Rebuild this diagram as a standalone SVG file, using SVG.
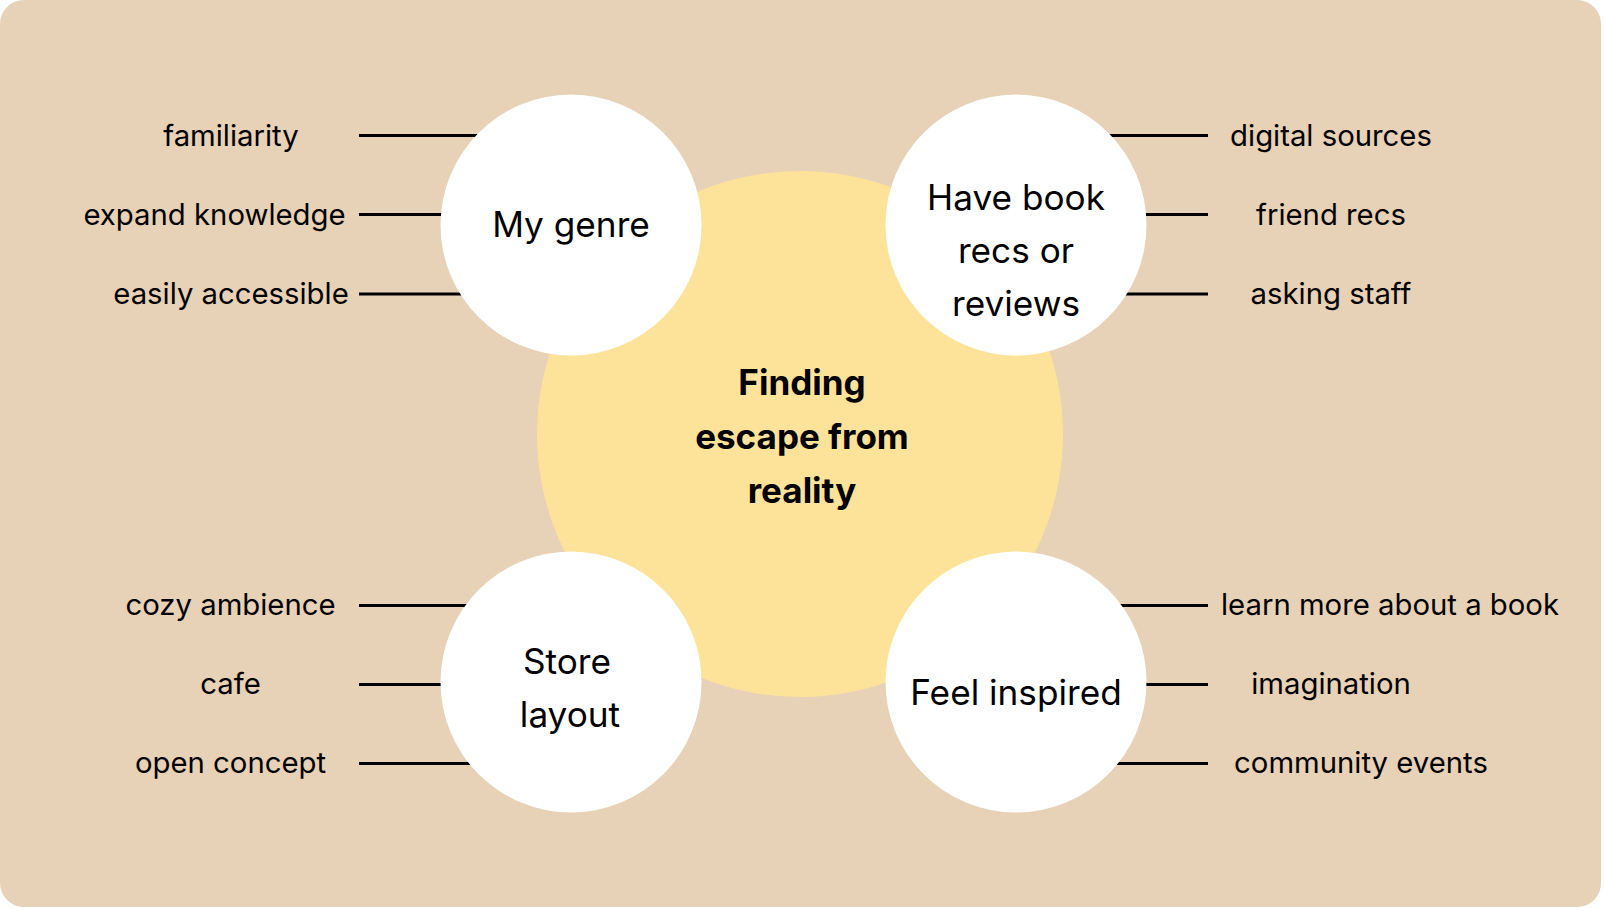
<svg xmlns="http://www.w3.org/2000/svg" width="1604" height="908" viewBox="0 0 1604 908">
<style>
.lbl{font-family:Inter,"Noto Sans","Liberation Sans",sans-serif;font-size:29.3px;fill:#000;text-anchor:middle}
.nt{font-family:Inter,"Noto Sans","Liberation Sans",sans-serif;font-size:35.2px;fill:#000;text-anchor:middle}
.ct{font-family:Inter,"Noto Sans","Liberation Sans",sans-serif;font-size:35px;font-weight:700;fill:#000;text-anchor:middle}
.conn line{stroke:#000;stroke-width:3}
.node{fill:#fff}
</style>
<rect x="0" y="0" width="1601" height="907" rx="24" fill="#E7D1B7"/>
<g id="center">
<circle cx="800" cy="434" r="263" fill="#FDE39A"/>
<text class="ct" x="802" y="395">Finding</text>
<text class="ct" x="802" y="449">escape from</text>
<text class="ct" x="802" y="503">reality</text>
</g>
<g id="connectors" class="conn">
<line x1="359" y1="135.5" x2="571" y2="135.5"/>
<line x1="359" y1="214.5" x2="571" y2="214.5"/>
<line x1="359" y1="294" x2="571" y2="294"/>
<line x1="1016" y1="135.5" x2="1208" y2="135.5"/>
<line x1="1016" y1="214.5" x2="1208" y2="214.5"/>
<line x1="1016" y1="294" x2="1208" y2="294"/>
<line x1="359" y1="605.5" x2="571" y2="605.5"/>
<line x1="359" y1="684.5" x2="571" y2="684.5"/>
<line x1="359" y1="763.5" x2="571" y2="763.5"/>
<line x1="1016" y1="605.5" x2="1208" y2="605.5"/>
<line x1="1016" y1="684.5" x2="1208" y2="684.5"/>
<line x1="1016" y1="763.5" x2="1208" y2="763.5"/>
</g>
<g id="node-genre">
<circle class="node" cx="571" cy="225" r="130.5"/>
<text class="nt" x="571" y="237">My genre</text>
</g>
<g id="node-recs">
<circle class="node" cx="1016" cy="225" r="130.5"/>
<text class="nt" x="1016" y="210">Have book</text>
<text class="nt" x="1016" y="263">recs or</text>
<text class="nt" x="1016" y="316">reviews</text>
</g>
<g id="node-layout">
<circle class="node" cx="571" cy="682" r="130.5"/>
<text class="nt" x="567" y="674">Store</text>
<text class="nt" x="570" y="727">layout</text>
</g>
<g id="node-inspired">
<circle class="node" cx="1016" cy="682" r="130.5"/>
<text class="nt" x="1016" y="705">Feel inspired</text>
</g>
<g id="labels">
<text class="lbl" x="231" y="146">familiarity</text>
<text class="lbl" x="214.5" y="225">expand knowledge</text>
<text class="lbl" x="231" y="304">easily accessible</text>
<text class="lbl" x="1331" y="146">digital sources</text>
<text class="lbl" x="1331" y="225">friend recs</text>
<text class="lbl" x="1331" y="304">asking staff</text>
<text class="lbl" x="230.5" y="615">cozy ambience</text>
<text class="lbl" x="230.5" y="694">cafe</text>
<text class="lbl" x="230.5" y="773">open concept</text>
<text class="lbl" x="1390" y="615">learn more about a book</text>
<text class="lbl" x="1331" y="694">imagination</text>
<text class="lbl" x="1361" y="773">community events</text>
</g>
</svg>
